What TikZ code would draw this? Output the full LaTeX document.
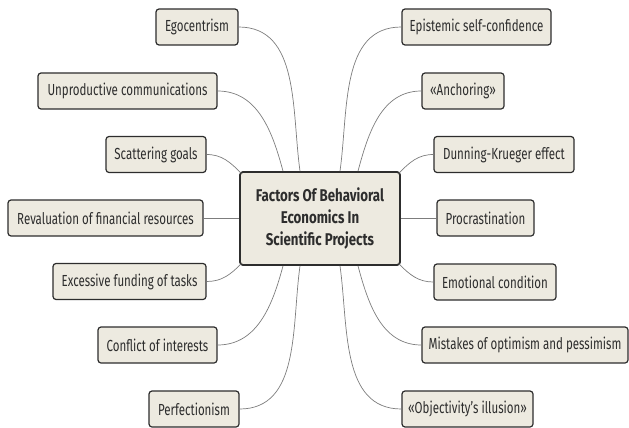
\documentclass[tikz,border=0pt]{standalone}
\usepackage{fontspec}
\setmainfont{Fira Sans}[FakeStretch=0.72]
\newfontfamily\titlefont{Fira Sans}[FakeStretch=0.78]
\usepackage{xcolor}
\definecolor{boxfill}{RGB}{237,234,224}
\definecolor{boxline}{RGB}{45,45,45}
\definecolor{linkgray}{RGB}{125,125,125}
\definecolor{txtgray}{RGB}{45,45,45}

\tikzset{
  leaf/.style={draw=boxline, line width=1.2pt, fill=boxfill, rounded corners=3pt,
    minimum height=36pt, inner xsep=2pt, text=txtgray,
    font=\fontsize{16}{19}\selectfont},
  hub/.style={leaf, line width=1.8pt, minimum width=160pt, minimum height=93pt,
    align=center, font=\titlefont\fontsize{17}{22}\selectfont\bfseries},
  link/.style={draw=linkgray, line width=0.7pt}
}

\begin{document}
\begin{tikzpicture}[x=1pt,y=1pt]

% Page
\useasboundingbox (0,0) rectangle (629,-428);

% Central topic
\node[hub] (root) at (320,-218.5) {Factors Of Behavioral\\Economics In\\Scientific Projects};

% Left branches
\node[leaf, minimum width=82pt] (ego) at (197,-27) {Egocentrism};
\node[leaf, minimum width=179pt] (unprod) at (127.5,-91) {Unproductive communications};
\node[leaf, minimum width=100pt] (scatter) at (156,-154.5) {Scattering goals};
\node[leaf, minimum width=195pt] (reval) at (105.5,-218) {Revaluation of financial resources};
\node[leaf, minimum width=153pt] (excess) at (129.5,-281.5) {Excessive funding of tasks};
\node[leaf, minimum width=119pt] (conflict) at (157.5,-345) {Conflict of interests};
\node[leaf, minimum width=90pt] (perfect) at (194,-409) {Perfectionism};

% Right branches
\node[leaf, minimum width=149pt] (epist) at (476.5,-27) {Epistemic self-confidence};
\node[leaf, minimum width=82pt] (anchor) at (463,-91) {«Anchoring»};
\node[leaf, minimum width=140pt] (dunning) at (504,-154.5) {Dunning-Krueger effect};
\node[leaf, minimum width=97pt] (procr) at (485.5,-218) {Procrastination};
\node[leaf, minimum width=122pt] (emot) at (495,-282) {Emotional condition};
\node[leaf, minimum width=206pt] (mistakes) at (525,-345) {Mistakes of optimism and pessimism};
\node[leaf, minimum width=131pt] (object) at (467.5,-409) {«Objectivity’s illusion»};

% Links, left side
\draw[link] (ego.east) to[out=0,in=98] ([xshift=-20pt]root.north);
\draw[link] (unprod.east) to[out=0,in=105] ([xshift=-37pt]root.north);
\draw[link] (scatter.east) to[out=0,in=135] ([shift={(2pt,-2pt)}]root.north west);
\draw[link] (reval.east) -- (reval.east -| root.west);
\draw[link] (excess.east) to[out=0,in=-135] ([shift={(2pt,2pt)}]root.south west);
\draw[link] (conflict.east) to[out=0,in=-105] ([xshift=-37pt]root.south);
\draw[link] (perfect.east) to[out=0,in=-98] ([xshift=-20pt]root.south);

% Links, right side
\draw[link] (epist.west) to[out=180,in=82] ([xshift=20pt]root.north);
\draw[link] (anchor.west) to[out=180,in=75] ([xshift=38pt]root.north);
\draw[link] (dunning.west) to[out=180,in=45] ([shift={(-2pt,-2pt)}]root.north east);
\draw[link] (procr.west) -- (procr.west -| root.east);
\draw[link] (emot.west) to[out=180,in=-45] ([shift={(-2pt,2pt)}]root.south east);
\draw[link] (mistakes.west) to[out=180,in=-75] ([xshift=38pt]root.south);
\draw[link] (object.west) to[out=180,in=-82] ([xshift=20pt]root.south);

\end{tikzpicture}
\end{document}
